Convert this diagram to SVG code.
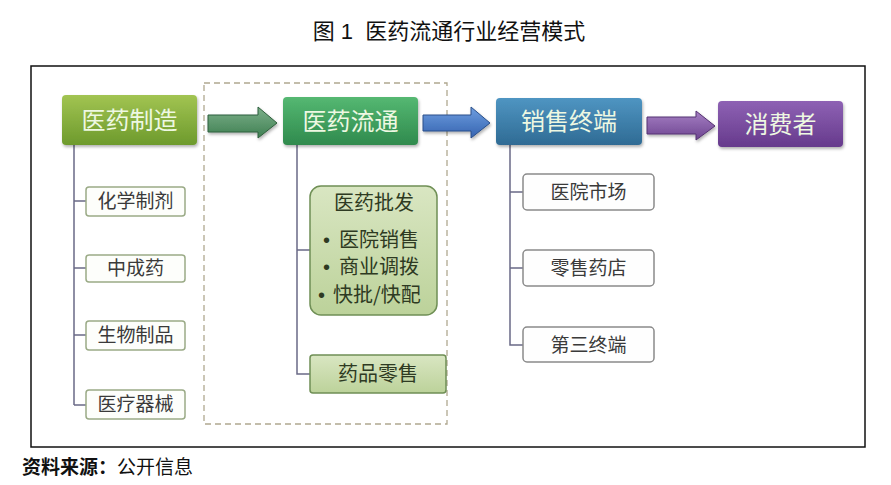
<svg xmlns="http://www.w3.org/2000/svg" width="891" height="485" viewBox="0 0 891 485">
<defs>
<linearGradient id="gMfg" x1="0" y1="0" x2="0" y2="1"><stop offset="0" stop-color="#a2c452"/><stop offset="1" stop-color="#6d9a2c"/></linearGradient>
<linearGradient id="gDist" x1="0" y1="0" x2="0" y2="1"><stop offset="0" stop-color="#55b872"/><stop offset="1" stop-color="#2f8a4d"/></linearGradient>
<linearGradient id="gSale" x1="0" y1="0" x2="0" y2="1"><stop offset="0" stop-color="#4f95c2"/><stop offset="1" stop-color="#2f6b94"/></linearGradient>
<linearGradient id="gCons" x1="0" y1="0" x2="0" y2="1"><stop offset="0" stop-color="#8e62b4"/><stop offset="1" stop-color="#663a8c"/></linearGradient>
<linearGradient id="gA1" x1="0" y1="0" x2="0" y2="1"><stop offset="0" stop-color="#7cb08a"/><stop offset="1" stop-color="#3f7f52"/></linearGradient>
<linearGradient id="gA2" x1="0" y1="0" x2="0" y2="1"><stop offset="0" stop-color="#6e9ee0"/><stop offset="1" stop-color="#3563b0"/></linearGradient>
<linearGradient id="gA3" x1="0" y1="0" x2="0" y2="1"><stop offset="0" stop-color="#a680c4"/><stop offset="1" stop-color="#6d4490"/></linearGradient>
<linearGradient id="gSub" x1="0" y1="0" x2="0" y2="1"><stop offset="0" stop-color="#d9e6c2"/><stop offset="1" stop-color="#bcd29a"/></linearGradient>
<filter id="sh" x="-10%" y="-10%" width="130%" height="140%"><feDropShadow dx="1" dy="2" stdDeviation="1.5" flood-color="#000" flood-opacity="0.3"/></filter>
</defs>
<style>
.title{font-family:"Liberation Sans","Noto Sans CJK SC",sans-serif;font-size:22px;fill:#111;}
.head{font-family:"Noto Sans CJK SC",sans-serif;font-size:24px;fill:#eef8e2;text-anchor:middle;}
.sub{font-family:"Noto Sans CJK SC",sans-serif;font-size:19px;fill:#3a3a3a;text-anchor:middle;}
.subg{font-family:"Noto Sans CJK SC",sans-serif;font-size:20px;fill:#2e3a22;}
.bul{font-family:"Liberation Sans",sans-serif;font-size:20px;}
.box1{fill:#fdfefb;stroke:#9aaa86;stroke-width:1.5;}
.box3{fill:#fefefe;stroke:#8a8a8a;stroke-width:1.5;}
.boxg{fill:url(#gSub);stroke:#6f8f55;stroke-width:1.5;}
.conn{fill:none;stroke:#6a6a86;stroke-width:1.5;}
.src{font-family:"Liberation Serif","Noto Sans CJK SC",serif;font-size:19px;fill:#111;}
</style>
<rect width="891" height="485" fill="#fff"/>
<text class="title" x="449" y="39" text-anchor="middle" xml:space="preserve">图 1  医药流通行业经营模式</text>
<rect x="31" y="66" width="834" height="381" fill="#fff" stroke="#111" stroke-width="1.5"/>
<rect x="204" y="83" width="243" height="341" fill="none" stroke="#b0a890" stroke-width="1.3" stroke-dasharray="6,4"/>

<g id="connectors">
<path class="conn" d="M74 145 V405 M74 201 H86 M74 268 H86 M74 335 H86 M74 405 H86"/>
<path class="conn" d="M297 145 V374 H310 M297 250 H310"/>
<path class="conn" d="M510 145 V345 H523 M510 192 H523 M510 268 H523"/>
<path d="M208 115 H258 V107 L277 123 L258 138 V132 H208 Z" fill="url(#gA1)" stroke="#2f5f3c" stroke-width="1" filter="url(#sh)"/>
<path d="M423 115 H471 V107 L490 123 L471 138 V131 H423 Z" fill="url(#gA2)" stroke="#2a4f8a" stroke-width="1" filter="url(#sh)"/>
<path d="M647 117 H696 V111 L715 126 L696 140 V134 H647 Z" fill="url(#gA3)" stroke="#553272" stroke-width="1" filter="url(#sh)"/>
</g>

<g id="n-mfg"><rect x="62" y="95" width="135" height="50" rx="4" fill="url(#gMfg)" filter="url(#sh)"/><text class="head" x="129.5" y="129">医药制造</text></g>
<g id="n-dist"><rect x="283" y="97" width="135" height="48" rx="4" fill="url(#gDist)" filter="url(#sh)"/><text class="head" x="350.5" y="130">医药流通</text></g>
<g id="n-sale"><rect x="496" y="98" width="146" height="47" rx="4" fill="url(#gSale)" filter="url(#sh)"/><text class="head" x="569" y="130">销售终端</text></g>
<g id="n-cons"><rect x="718" y="101" width="125" height="46" rx="4" fill="url(#gCons)" filter="url(#sh)"/><text class="head" x="780.5" y="133">消费者</text></g>

<g id="n-chem"><rect class="box1" x="86" y="187" width="99" height="29" rx="3"/><text class="sub" x="135.5" y="208">化学制剂</text></g>
<g id="n-tcm"><rect class="box1" x="86" y="255" width="99" height="27" rx="3"/><text class="sub" x="135.5" y="275">中成药</text></g>
<g id="n-bio"><rect class="box1" x="86" y="321" width="99" height="29" rx="3"/><text class="sub" x="135.5" y="342">生物制品</text></g>
<g id="n-dev"><rect class="box1" x="86" y="390" width="99" height="29" rx="3"/><text class="sub" x="135.5" y="411">医疗器械</text></g>

<g id="n-whole"><rect class="boxg" x="310" y="186" width="127" height="129" rx="11"/>
<text class="subg" x="374" y="210" text-anchor="middle">医药批发</text>
<text class="subg" x="323" y="247"><tspan class="bul">•</tspan><tspan x="339">医院销售</tspan></text>
<text class="subg" x="323" y="274"><tspan class="bul">•</tspan><tspan x="339">商业调拨</tspan></text>
<text class="subg" x="318" y="302"><tspan class="bul">•</tspan><tspan x="333">快批/快配</tspan></text></g>
<g id="n-retail"><rect class="boxg" x="310" y="355" width="136" height="38" rx="3"/><text class="subg" x="378" y="381" text-anchor="middle">药品零售</text></g>

<g id="n-hosp"><rect class="box3" x="523" y="174" width="131" height="36" rx="4"/><text class="sub" x="588.5" y="199">医院市场</text></g>
<g id="n-pharm"><rect class="box3" x="523" y="250" width="131" height="36" rx="4"/><text class="sub" x="588.5" y="275">零售药店</text></g>
<g id="n-third"><rect class="box3" x="523" y="327" width="131" height="35" rx="4"/><text class="sub" x="588.5" y="352">第三终端</text></g>

<text class="src" x="22" y="474"><tspan font-weight="bold">资料来源：</tspan>公开信息</text>
</svg>
